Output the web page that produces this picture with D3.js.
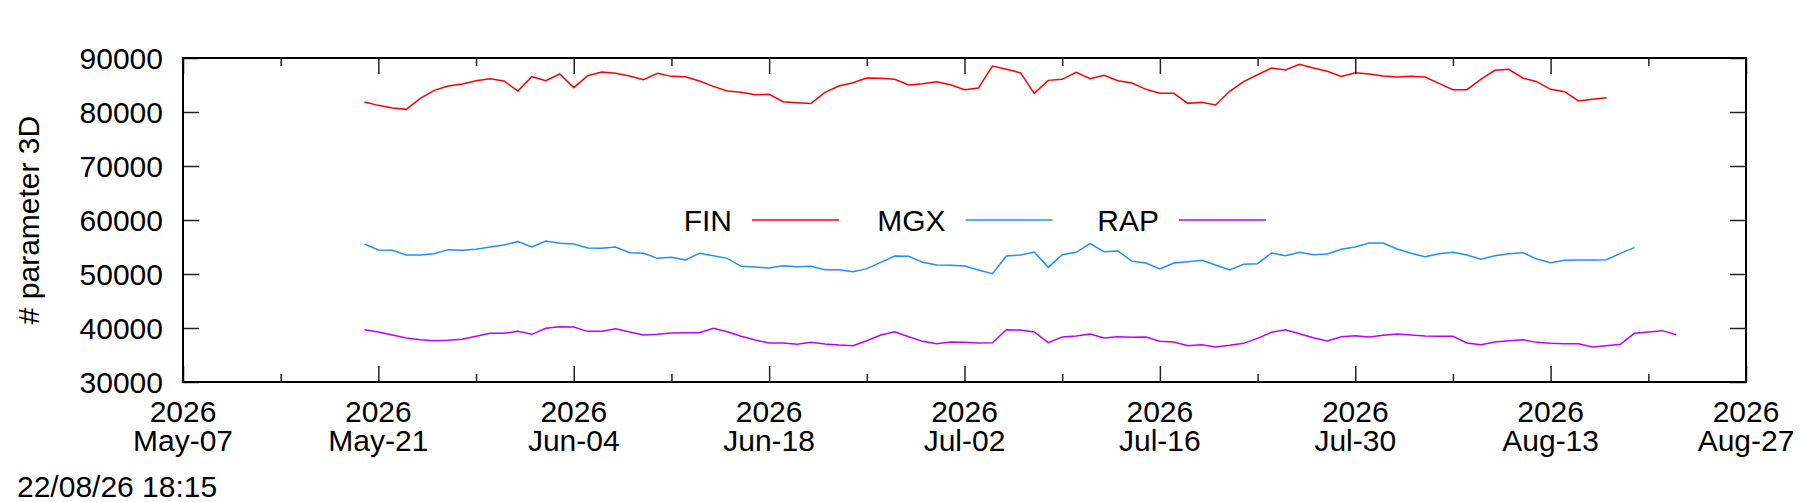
<!DOCTYPE html>
<html>
<head>
<meta charset="utf-8">
<script src="https://cdn.jsdelivr.net/npm/d3@7"></script>
<style>
  body { margin: 0; background: #fff; }
  svg { display: block; font-family: "Liberation Sans", Arial, sans-serif; }
</style>
</head>
<body>
<svg id="chart" width="1800" height="502"></svg>
<script>
// daily values, first point on 2026-05-20
const seriesNames = ['FIN', 'MGX', 'RAP'];
const seriesColors = ['#ff0000', '#1e90ff', '#c000ff'];
const firstDay = '2026-05-20';
const lastDay = '2026-08-22';

const finValues = [
  81850, 81230, 80740, 80490, 82530, 84010, 84810, 85190, 85800, 86170, 85740, 83890,
  86540, 85800, 87040, 84510, 86730, 87410, 87160, 86670, 85990, 87160, 86600, 86540,
  85740, 84750, 83890, 83640, 83210, 83270, 81910, 81730, 81570, 83640, 84810, 85430,
  86300, 86230, 86050, 85000, 85250, 85620, 85060, 84140, 84440, 88520, 87900, 87280,
  83460, 85860, 86050, 87350, 86170, 86790, 85800, 85370, 84200, 83460, 83460, 81600,
  81790, 81300, 83830, 85620, 86900, 88150, 87780, 88830, 88150, 87530, 86600, 87280,
  87040, 86670, 86480, 86600, 86480, 85310, 84140, 84140, 86050, 87720, 87900, 86300,
  85620, 84200, 83770, 82040, 82350, 82650
];

const mgxValues = [
  55550, 54440, 54380, 53520, 53520, 53760, 54510, 54380, 54570, 55000, 55370, 55990,
  55000, 56110, 55680, 55550, 54800, 54750, 55000, 53950, 53830, 52900, 53090, 52590,
  53830, 53390, 52900, 51420, 51300, 51110, 51540, 51360, 51420, 50800, 50800, 50430,
  50990, 52160, 53330, 53270, 52160, 51670, 51600, 51480, 50740, 50060, 53330, 53520,
  54070, 51230, 53580, 54010, 55620, 54130, 54260, 52340, 52040, 50920, 52040, 52280,
  52530, 51670, 50740, 51790, 51910, 53890, 53390, 54010, 53580, 53700, 54570, 55000,
  55740, 55740, 54630, 53830, 53210, 53760, 54010, 53520, 52720, 53390, 53760, 53950,
  52780, 52100, 52530, 52590, 52590, 52650, 53830, 54880
];

const rapValues = [
  39690, 39260, 38700, 38150, 37840, 37650, 37720, 37900, 38460, 39010, 39010, 39380,
  38830, 39940, 40250, 40180, 39380, 39380, 39880, 39260, 38700, 38830, 39070, 39130,
  39130, 39940, 39320, 38460, 37780, 37220, 37220, 36970, 37380, 37040, 36850, 36730,
  37650, 38700, 39320, 38390, 37530, 37100, 37410, 37340, 37220, 37280, 39690, 39630,
  39260, 37280, 38330, 38520, 38890, 38150, 38390, 38270, 38330, 37530, 37410, 36730,
  36910, 36480, 36790, 37160, 38080, 39200, 39690, 38950, 38210, 37590, 38390, 38580,
  38330, 38640, 38890, 38700, 38520, 38460, 38460, 37220, 36910, 37410, 37650, 37840,
  37340, 37160, 37100, 37100, 36480, 36730, 36970, 39010, 39260, 39510, 38760
];

const yTicks = [30000, 40000, 50000, 60000, 70000, 80000, 90000];
const xTickDates = [
  '2026-05-07', '2026-05-14', '2026-05-21', '2026-05-28', '2026-06-04', '2026-06-11',
  '2026-06-18', '2026-06-25', '2026-07-02', '2026-07-09', '2026-07-16', '2026-07-23',
  '2026-07-30', '2026-08-06', '2026-08-13', '2026-08-20', '2026-08-27'
];
const xDomain = ['2026-05-07', '2026-08-27'];
const yTitle = '# parameter 3D';
const stampText = '22/08/26 18:15';

const width = 1800;
const height = 502;
const margin = { top: 58, right: 54, bottom: 120, left: 183 };
const parse = d3.timeParse('%Y-%m-%d');

const svg = d3.select('#chart');

const xScale = d3.scaleTime()
  .domain(xDomain.map(parse))
  .range([margin.left, width - margin.right]);

const yScale = d3.scaleLinear()
  .domain([30000, 90000])
  .range([height - margin.bottom, margin.top]);

const days = d3.timeDay.range(parse(firstDay), d3.timeDay.offset(parse(lastDay), 1));
const series = [finValues, mgxValues, rapValues].map((vals, i) => ({
  name: seriesNames[i],
  color: seriesColors[i],
  points: vals.map((v, j) => ({ date: days[j], value: v })),
}));

const tickDates = xTickDates.map(parse);
const isMajor = (d, i) => i % 2 === 0;

// data lines
const line = d3.line()
  .x(d => xScale(d.date))
  .y(d => yScale(d.value));

svg.append('g')
  .selectAll('path')
  .data(series)
  .join('path')
  .attr('d', d => line(d.points))
  .attr('fill', 'none')
  .attr('stroke', d => d.color)
  .attr('stroke-width', 1.5)
  .attr('stroke-linejoin', 'miter');

// axes (ticks pointing inward, mirrored on all four sides)
const bottomAxis = svg.append('g')
  .attr('transform', `translate(0, ${height - margin.bottom})`)
  .call(d3.axisBottom(xScale).tickValues(tickDates).tickSizeInner(-16).tickSizeOuter(0).tickFormat(''));

const topAxis = svg.append('g')
  .attr('transform', `translate(0, ${margin.top})`)
  .call(d3.axisTop(xScale).tickValues(tickDates).tickSizeInner(-16).tickSizeOuter(0).tickFormat(''));

bottomAxis.selectAll('.tick line').attr('y2', (d, i) => isMajor(d, i) ? -16 : -8);
topAxis.selectAll('.tick line').attr('y2', (d, i) => isMajor(d, i) ? 16 : 8);

const leftAxis = svg.append('g')
  .attr('transform', `translate(${margin.left}, 0)`)
  .call(d3.axisLeft(yScale).tickValues(yTicks).tickSizeInner(-16).tickSizeOuter(0).tickPadding(20).tickFormat(d3.format('d')));

svg.append('g')
  .attr('transform', `translate(${width - margin.right}, 0)`)
  .call(d3.axisRight(yScale).tickValues(yTicks).tickSizeInner(-16).tickSizeOuter(0).tickFormat(''));

svg.selectAll('.domain').remove();
svg.selectAll('.tick line').attr('stroke', '#222').attr('stroke-width', 1.5);

leftAxis.selectAll('.tick text')
  .attr('font-size', 30)
  .attr('font-family', '"Liberation Sans", Arial, sans-serif')
  .attr('fill', '#000')
  .attr('dy', '0.36em');

// two-line date labels under the major ticks
const fmtYear = d3.timeFormat('%Y');
const fmtDay = d3.timeFormat('%b-%d');
const xLabels = svg.append('g')
  .attr('font-size', 30)
  .attr('text-anchor', 'middle')
  .selectAll('text')
  .data(tickDates.filter(isMajor))
  .join('text')
  .attr('x', d => xScale(d))
  .attr('y', height - margin.bottom + 39.5);

xLabels.append('tspan').attr('x', d => xScale(d)).text(fmtYear);
xLabels.append('tspan').attr('x', d => xScale(d)).attr('dy', 29.5).text(fmtDay);

// frame
svg.append('rect')
  .attr('x', margin.left)
  .attr('y', margin.top)
  .attr('width', width - margin.left - margin.right)
  .attr('height', height - margin.top - margin.bottom)
  .attr('fill', 'none')
  .attr('stroke', '#000')
  .attr('stroke-width', 2);

// y title
const yMid = (margin.top + height - margin.bottom) / 2;
svg.append('text')
  .attr('transform', `translate(39, ${yMid}) rotate(-90)`)
  .attr('text-anchor', 'middle')
  .attr('font-size', 30)
  .text(yTitle);

// legend, one row in the middle of the plot
const legend = svg.append('g')
  .selectAll('g')
  .data(series)
  .join('g')
  .attr('transform', (d, i) => `translate(${732 + i * 213.5}, ${yMid})`);

legend.append('text')
  .attr('text-anchor', 'end')
  .attr('dy', '0.36em')
  .attr('font-size', 30)
  .text(d => d.name);

legend.append('line')
  .attr('x1', 20)
  .attr('x2', 107)
  .attr('stroke', d => d.color)
  .attr('stroke-width', 1.5);

// timestamp
svg.append('text')
  .attr('x', 17)
  .attr('y', 497)
  .attr('font-size', 30)
  .text(stampText);
</script>
</body>
</html>
